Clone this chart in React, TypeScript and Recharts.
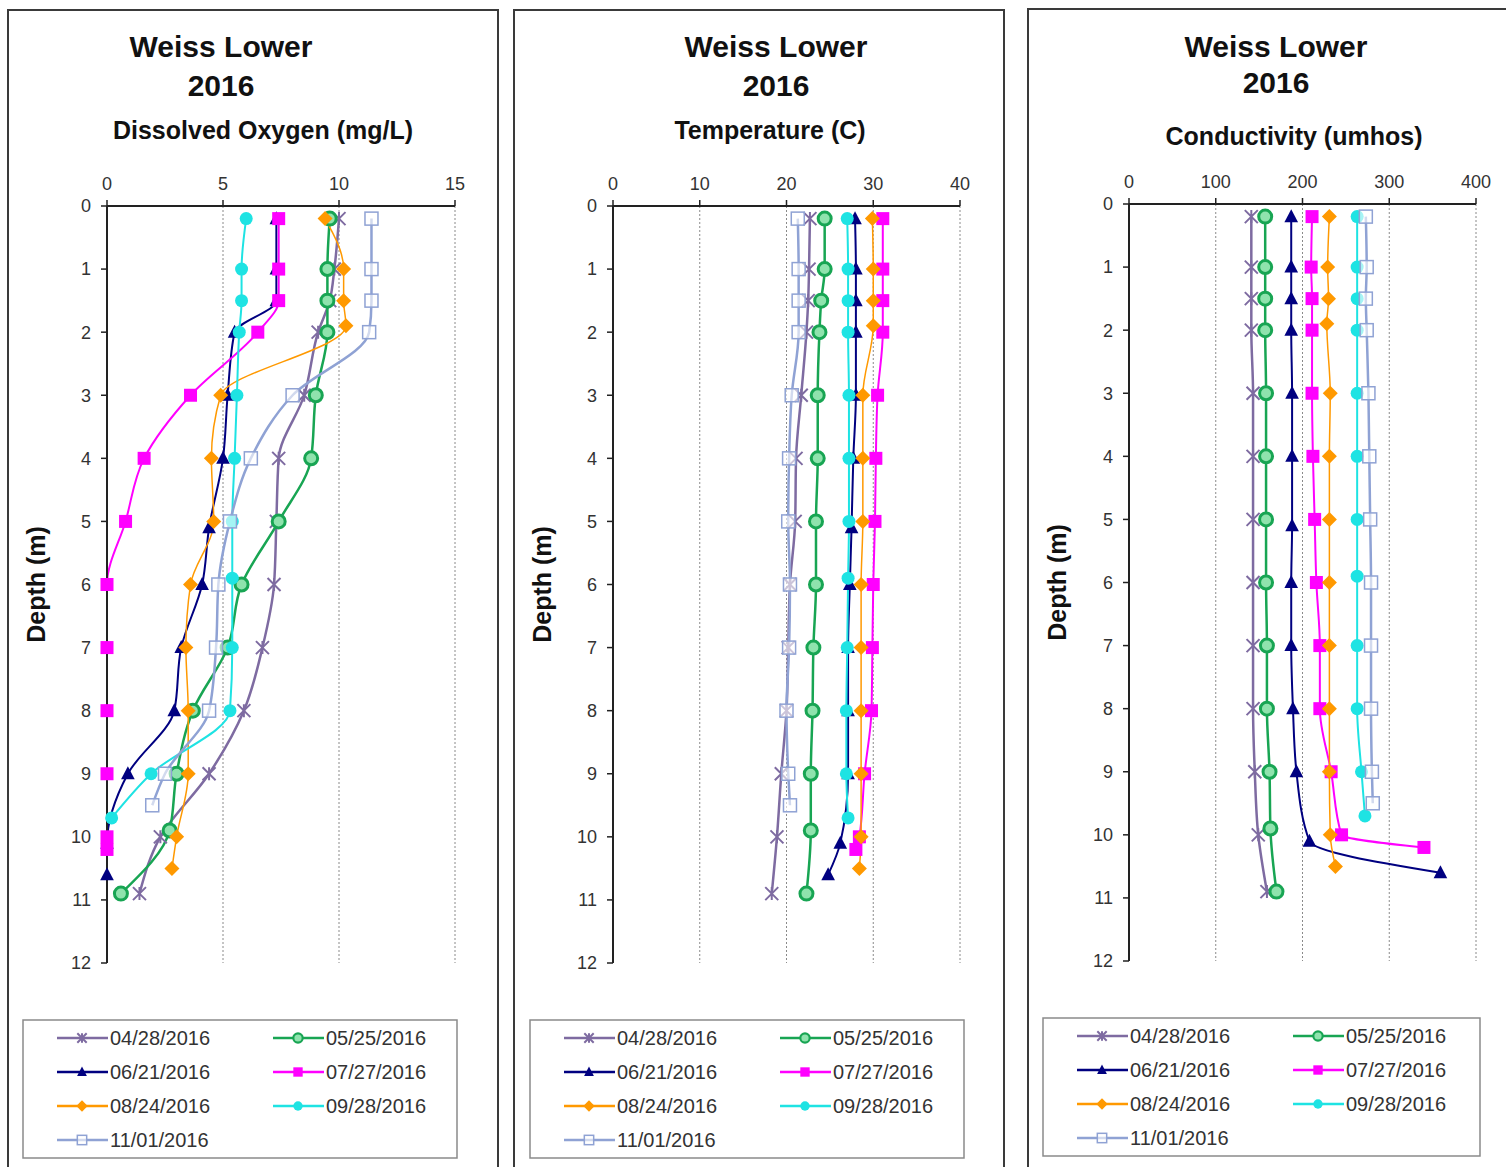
import { CartesianGrid, Line, LineChart, XAxis, YAxis } from 'recharts';

const DATES = ['04/28/2016', '05/25/2016', '06/21/2016', '07/27/2016', '08/24/2016', '09/28/2016', '11/01/2016'];

// sample depths (m) of each profile
const DEPTH_0428 = [0.2, 1, 1.5, 2, 3, 4, 5, 6, 7, 8, 9, 10, 10.9];
const DEPTH_0525 = [0.2, 1, 1.5, 2, 3, 4, 5, 6, 7, 8, 9, 9.9, 10.9];
const DEPTH_0621 = [0.2, 1, 1.5, 2, 3, 4, 5.1, 6, 7, 8, 9, 10.1, 10.6];
const DEPTH_0727 = [0.2, 1, 1.5, 2, 3, 4, 5, 6, 7, 8, 9, 10, 10.2];
const DEPTH_0824 = [0.2, 1, 1.5, 1.9, 3, 4, 5, 6, 7, 8, 9, 10, 10.5];
const DEPTH_0928 = [0.2, 1, 1.5, 2, 3, 4, 5, 5.9, 7, 8, 9, 9.7];
const DEPTH_1101 = [0.2, 1, 1.5, 2, 3, 4, 5, 6, 7, 8, 9, 9.5];

// dissolved oxygen (mg/L)
const DO_0428 = [10.0, 9.8, 9.6, 9.1, 8.5, 7.4, 7.3, 7.2, 6.7, 5.9, 4.4, 2.3, 1.4];
const DO_0525 = [9.6, 9.5, 9.5, 9.5, 9.0, 8.8, 7.4, 5.8, 5.2, 3.7, 3.0, 2.7, 0.6];
const DO_0621 = [7.3, 7.3, 7.3, 5.5, 5.2, 5.0, 4.4, 4.1, 3.2, 2.9, 0.9, 0, 0];
const DO_0727 = [7.4, 7.4, 7.4, 6.5, 3.6, 1.6, 0.8, 0, 0, 0, 0, 0, 0];
const DO_0824 = [9.4, 10.2, 10.2, 10.3, 4.9, 4.5, 4.6, 3.6, 3.4, 3.5, 3.5, 3.0, 2.8];
const DO_0928 = [6.0, 5.8, 5.8, 5.7, 5.6, 5.5, 5.4, 5.4, 5.4, 5.3, 1.9, 0.2];
const DO_1101 = [11.4, 11.4, 11.4, 11.3, 8.0, 6.2, 5.3, 4.8, 4.7, 4.4, 2.5, 1.95];

// temperature (C)
const TEMP_0428 = [22.7, 22.6, 22.5, 22.3, 21.7, 21.1, 21.0, 20.4, 20.2, 20.0, 19.4, 18.9, 18.3];
const TEMP_0525 = [24.4, 24.4, 24.0, 23.8, 23.6, 23.6, 23.4, 23.4, 23.1, 23.0, 22.8, 22.8, 22.3];
const TEMP_0621 = [27.9, 28.0, 28.0, 28.0, 28.0, 27.7, 27.5, 27.3, 27.1, 27.1, 27.1, 26.2, 24.8];
const TEMP_0727 = [31.1, 31.1, 31.1, 31.1, 30.5, 30.3, 30.2, 30.0, 29.9, 29.8, 29.0, 28.4, 28.0];
const TEMP_0824 = [29.9, 30.0, 30.0, 30.0, 28.8, 28.8, 28.8, 28.6, 28.6, 28.6, 28.6, 28.6, 28.4];
const TEMP_0928 = [27.0, 27.1, 27.1, 27.1, 27.2, 27.2, 27.2, 27.1, 27.0, 26.9, 26.9, 27.1];
const TEMP_1101 = [21.3, 21.4, 21.4, 21.4, 20.6, 20.3, 20.2, 20.4, 20.3, 20.0, 20.2, 20.4];

// conductivity (umhos)
const COND_0428 = [141, 141, 141, 141, 143, 143, 143, 143, 143, 143, 145, 149, 159];
const COND_0525 = [157, 157, 157, 157, 158, 158, 158, 158, 159, 159, 162, 163, 170];
const COND_0621 = [187, 187, 187, 187, 188, 188, 188, 187, 187, 189, 193, 208, 359];
const COND_0727 = [211, 210, 211, 211, 211, 212, 214, 216, 220, 220, 233, 245, 340];
const COND_0824 = [231, 229, 230, 228, 232, 231, 231, 231, 231, 231, 231, 232, 238];
const COND_0928 = [263, 263, 263, 263, 263, 263, 263, 263, 263, 263, 268, 272];
const COND_1101 = [273, 274, 273, 274, 276, 277, 278, 279, 279, 279, 280, 281];

const DO_TICKS = [0, 5, 10, 15];
const TEMP_TICKS = [0, 10, 20, 30, 40];
const COND_TICKS = [0, 100, 200, 300, 400];
const DEPTH_TICKS = [0, 1, 2, 3, 4, 5, 6, 7, 8, 9, 10, 11, 12];

const DEPTHS = [DEPTH_0428, DEPTH_0525, DEPTH_0621, DEPTH_0727, DEPTH_0824, DEPTH_0928, DEPTH_1101];

type Shape = 'star' | 'ring' | 'triangle' | 'square' | 'diamond' | 'circle' | 'openSquare';

const SERIES_STYLE: { color: string; width: number; shape: Shape }[] = [
  { color: '#7E6BA1', width: 2.5, shape: 'star' },
  { color: '#18A553', width: 2.5, shape: 'ring' },
  { color: '#000080', width: 2, shape: 'triangle' },
  { color: '#FF00FF', width: 2, shape: 'square' },
  { color: '#FF9900', width: 1.5, shape: 'diamond' },
  { color: '#1EE3E3', width: 2, shape: 'circle' },
  { color: '#8FA2D4', width: 2.5, shape: 'openSquare' },
];

const FONT = '"Liberation Sans", Arial, sans-serif';
const PAGE_H = 1167;
const Y_AXIS_W = 50;
const X_AXIS_H = 40;

type MarkerProps = { cx: number; cy: number; shape: Shape; color: string; s?: number };

function Marker({ cx, cy, shape, color, s = 1 }: MarkerProps) {
  const r = 6.5 * s;
  switch (shape) {
    case 'star':
      return (
        <path
          d={`M${cx - r},${cy - r}L${cx + r},${cy + r}M${cx - r},${cy + r}L${cx + r},${cy - r}M${cx},${cy - r}L${cx},${cy + r}`}
          stroke={color}
          strokeWidth={2}
          fill="none"
        />
      );
    case 'ring':
      return <circle cx={cx} cy={cy} r={r} fill="#8fe3ad" stroke={color} strokeWidth={3 * s} />;
    case 'triangle':
      return <path d={`M${cx},${cy - r * 1.15}L${cx + r * 1.05},${cy + r * 0.85}L${cx - r * 1.05},${cy + r * 0.85}Z`} fill={color} />;
    case 'square':
      return <rect x={cx - r} y={cy - r} width={2 * r} height={2 * r} fill={color} />;
    case 'diamond':
      return <path d={`M${cx},${cy - r - 1}L${cx + r + 1},${cy}L${cx},${cy + r + 1}L${cx - r - 1},${cy}Z`} fill={color} />;
    case 'circle':
      return <circle cx={cx} cy={cy} r={r} fill={color} />;
    default:
      return (
        <rect x={cx - r} y={cy - r} width={2 * r} height={2 * r} fill="#fff" fillOpacity={0.6} stroke={color} strokeWidth={1.5} />
      );
  }
}

type PanelConfig = {
  frameLeft: number;
  frameTop: number;
  frameWidth: number;
  plot: { left: number; top: number; right: number; bottom: number };
  titleX: number;
  titleY: [number, number];
  subtitle: string;
  subtitleX: number;
  subtitleY: number;
  depthLabelX: number;
  legend: { left: number; top: number; width: number };
  xMax: number;
  xTicks: number[];
  values: number[][];
};

const PANELS: PanelConfig[] = [
  {
    frameLeft: 8,
    frameTop: 10,
    frameWidth: 492,
    plot: { left: 107, top: 206, right: 455, bottom: 963 },
    titleX: 221,
    titleY: [57, 96],
    subtitle: 'Dissolved Oxygen (mg/L)',
    subtitleX: 263,
    subtitleY: 139,
    depthLabelX: 45,
    legend: { left: 23, top: 1020, width: 434 },
    xMax: 15,
    xTicks: DO_TICKS,
    values: [DO_0428, DO_0525, DO_0621, DO_0727, DO_0824, DO_0928, DO_1101],
  },
  {
    frameLeft: 514,
    frameTop: 10,
    frameWidth: 492,
    plot: { left: 613, top: 206, right: 960, bottom: 963 },
    titleX: 776,
    titleY: [57, 96],
    subtitle: 'Temperature (C)',
    subtitleX: 770,
    subtitleY: 139,
    depthLabelX: 551,
    legend: { left: 530, top: 1020, width: 434 },
    xMax: 40,
    xTicks: TEMP_TICKS,
    values: [TEMP_0428, TEMP_0525, TEMP_0621, TEMP_0727, TEMP_0824, TEMP_0928, TEMP_1101],
  },
  {
    frameLeft: 1028,
    frameTop: 9,
    frameWidth: 492,
    plot: { left: 1129, top: 204, right: 1476, bottom: 961 },
    titleX: 1276,
    titleY: [57, 93],
    subtitle: 'Conductivity (umhos)',
    subtitleX: 1294,
    subtitleY: 145,
    depthLabelX: 1066,
    legend: { left: 1043, top: 1018, width: 437 },
    xMax: 400,
    xTicks: COND_TICKS,
    values: [COND_0428, COND_0525, COND_0621, COND_0727, COND_0824, COND_0928, COND_1101],
  },
];

function Panel({ cfg }: { cfg: PanelConfig }) {
  const { plot } = cfg;
  const chartW = Math.min(cfg.frameWidth - 2, 1506 - cfg.frameLeft);
  const chartH = PAGE_H - cfg.frameTop;
  const margin = {
    left: plot.left - cfg.frameLeft - Y_AXIS_W,
    right: cfg.frameLeft + chartW - plot.right,
    top: plot.top - cfg.frameTop - X_AXIS_H,
    bottom: PAGE_H - plot.bottom,
  };
  const lg = cfg.legend;
  const depthMid = (plot.top + plot.bottom) / 2;

  return (
    <>
      <div
        style={{
          position: 'absolute',
          left: cfg.frameLeft - 1,
          top: cfg.frameTop - 1,
          width: cfg.frameWidth,
          height: 1200,
          border: '2px solid #3a3a3a',
          boxSizing: 'border-box',
        }}
      />
      <div style={{ position: 'absolute', left: cfg.frameLeft, top: cfg.frameTop }}>
        <LineChart layout="vertical" width={chartW} height={chartH} margin={margin}>
          <CartesianGrid horizontal={false} stroke="#8a8a8a" strokeDasharray="2 2" />
          <XAxis
            type="number"
            orientation="top"
            domain={[0, cfg.xMax]}
            ticks={cfg.xTicks}
            interval={0}
            height={X_AXIS_H}
            tickSize={6}
            tickMargin={10}
            axisLine={{ stroke: '#222', strokeWidth: 2 }}
            tickLine={{ stroke: '#222', strokeWidth: 1.5 }}
            tick={{ fill: '#333', fontSize: 18, fontFamily: FONT }}
          />
          <YAxis
            type="number"
            dataKey="depth"
            domain={[0, 12]}
            ticks={DEPTH_TICKS}
            interval={0}
            width={Y_AXIS_W}
            tickSize={6}
            tickMargin={10}
            axisLine={{ stroke: '#222', strokeWidth: 2 }}
            tickLine={{ stroke: '#222', strokeWidth: 1.5 }}
            tick={{ fill: '#333', fontSize: 18, fontFamily: FONT }}
          />
          {cfg.values.map((vals, i) => {
            const st = SERIES_STYLE[i];
            const data = DEPTHS[i].map((d, j) => ({ depth: d, v: vals[j] }));
            return (
              <Line
                key={DATES[i]}
                name={DATES[i]}
                data={data}
                dataKey="v"
                type="monotone"
                stroke={st.color}
                strokeWidth={st.width}
                isAnimationActive={false}
                activeDot={false}
                dot={(p: any) => <Marker key={`${i}-${p.index}`} cx={p.cx} cy={p.cy} shape={st.shape} color={st.color} />}
              />
            );
          })}
        </LineChart>
      </div>
      <svg
        width={1506}
        height={PAGE_H}
        style={{ position: 'absolute', left: 0, top: 0, pointerEvents: 'none', fontFamily: FONT }}
      >
        <text x={cfg.titleX} y={cfg.titleY[0]} textAnchor="middle" fontSize={30} fontWeight="bold" fill="#111">
          Weiss Lower
        </text>
        <text x={cfg.titleX} y={cfg.titleY[1]} textAnchor="middle" fontSize={30} fontWeight="bold" fill="#111">
          2016
        </text>
        <text x={cfg.subtitleX} y={cfg.subtitleY} textAnchor="middle" fontSize={25} fontWeight="bold" fill="#111">
          {cfg.subtitle}
        </text>
        <text
          x={cfg.depthLabelX}
          y={depthMid}
          textAnchor="middle"
          fontSize={25}
          fontWeight="bold"
          fill="#111"
          transform={`rotate(-90 ${cfg.depthLabelX} ${depthMid})`}
        >
          Depth (m)
        </text>
        <rect x={lg.left} y={lg.top} width={lg.width} height={138} fill="#fff" stroke="#8a8a8a" strokeWidth={1.5} />
        {DATES.map((date, i) => {
          const st = SERIES_STYLE[i];
          const col = i % 2;
          const row = Math.floor(i / 2);
          const x0 = lg.left + (col ? 250 : 34);
          const cy = lg.top + 18 + row * 34;
          return (
            <g key={date}>
              <line x1={x0} y1={cy} x2={x0 + 51} y2={cy} stroke={st.color} strokeWidth={2.5} />
              <Marker cx={x0 + 25} cy={cy} shape={st.shape} color={st.color} s={0.72} />
              <text x={x0 + 53} y={cy + 7} fontSize={20} fill="#333">
                {date}
              </text>
            </g>
          );
        })}
      </svg>
    </>
  );
}

export default function App() {
  return (
    <div
      style={{
        position: 'absolute',
        left: 0,
        top: 0,
        width: 1506,
        height: PAGE_H,
        overflow: 'hidden',
        background: '#fff',
      }}
    >
      {PANELS.map((p) => (
        <Panel key={p.subtitle} cfg={p} />
      ))}
    </div>
  );
}
